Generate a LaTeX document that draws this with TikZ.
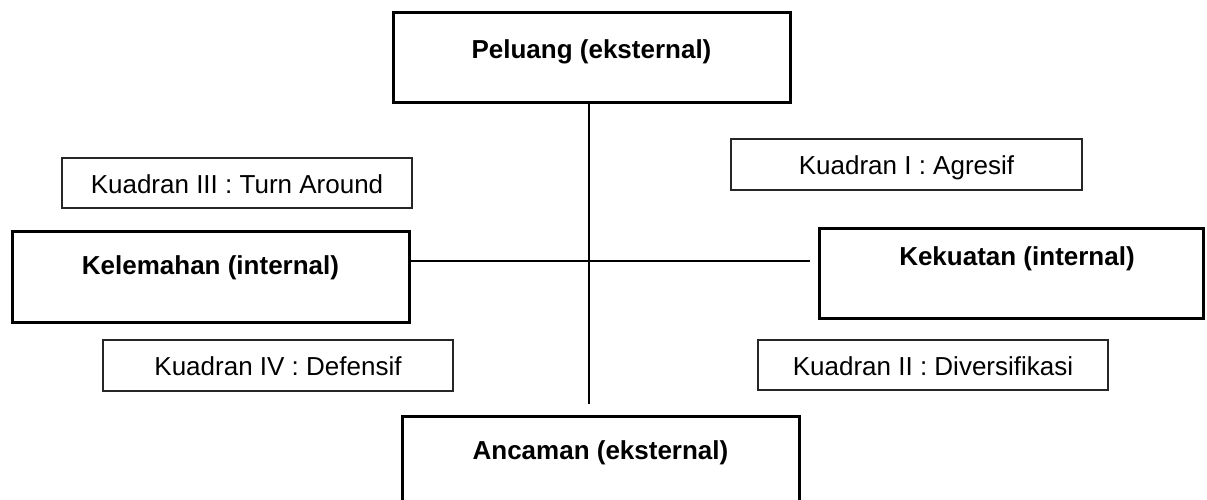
\documentclass[tikz,border=0pt]{standalone}
\usepackage{fontspec}
\setmainfont{Liberation Sans}
\begin{document}
\begin{tikzpicture}[x=1pt,y=-1pt,
  bigbox/.style={draw=black,line width=3pt,inner sep=0pt,fill=none},
  smallbox/.style={draw=black!85,line width=1.4pt,inner sep=0pt},
  boldtxt/.style={font=\fontsize{26}{30}\selectfont\bfseries,anchor=base,inner sep=0pt},
  regtxt/.style={font=\fontsize{26}{30}\selectfont,anchor=base,inner sep=0pt},
  conn/.style={draw=black,line width=1.4pt}]
\useasboundingbox (0,0) rectangle (1207,500);
\clip (0,0) rectangle (1207,500);
% big boxes
\node[bigbox,minimum width=397pt,minimum height=90pt] (peluang) at (591.5,58) {};
\node[boldtxt] (peluangt) at (591.5,59) {Peluang (eksternal)};
\node[bigbox,minimum width=397pt,minimum height=91pt] (kelemahan) at (210.5,276.5) {};
\node[boldtxt] (kelemahant) at (210.5,274) {Kelemahan (internal)};
\node[bigbox,minimum width=384pt,minimum height=90pt] (kekuatan) at (1011,273) {};
\node[boldtxt] (kekuatant) at (1017,265) {Kekuatan (internal)};
\node[bigbox,minimum width=397pt,minimum height=100pt] (ancaman) at (600.5,466) {};
\node[boldtxt] (ancamant) at (600.5,459) {Ancaman (eksternal)};
% quadrant boxes
\node[smallbox,minimum width=350pt,minimum height=50pt] (k3) at (237,183) {};
\node[regtxt] (k3t) at (237,193) {Kuadran III : Turn Around};
\node[smallbox,minimum width=351pt,minimum height=51pt] (k1) at (906.5,164.5) {};
\node[regtxt] (k1t) at (906.5,175) {Kuadran I : Agresif};
\node[smallbox,minimum width=350pt,minimum height=51pt] (k4) at (278,365.5) {};
\node[regtxt] (k4t) at (278,375) {Kuadran IV : Defensif};
\node[smallbox,minimum width=350pt,minimum height=50pt] (k2) at (933,365) {};
\node[regtxt] (k2t) at (933,375) {Kuadran II : Diversifikasi};
% connectors
\coordinate (vend) at (589,404);
\coordinate (hend) at (810,261);
\draw[conn] (peluang.south -| vend) -- (vend);
\draw[conn] (kelemahan.east |- hend) -- (hend);
\end{tikzpicture}
\end{document}
